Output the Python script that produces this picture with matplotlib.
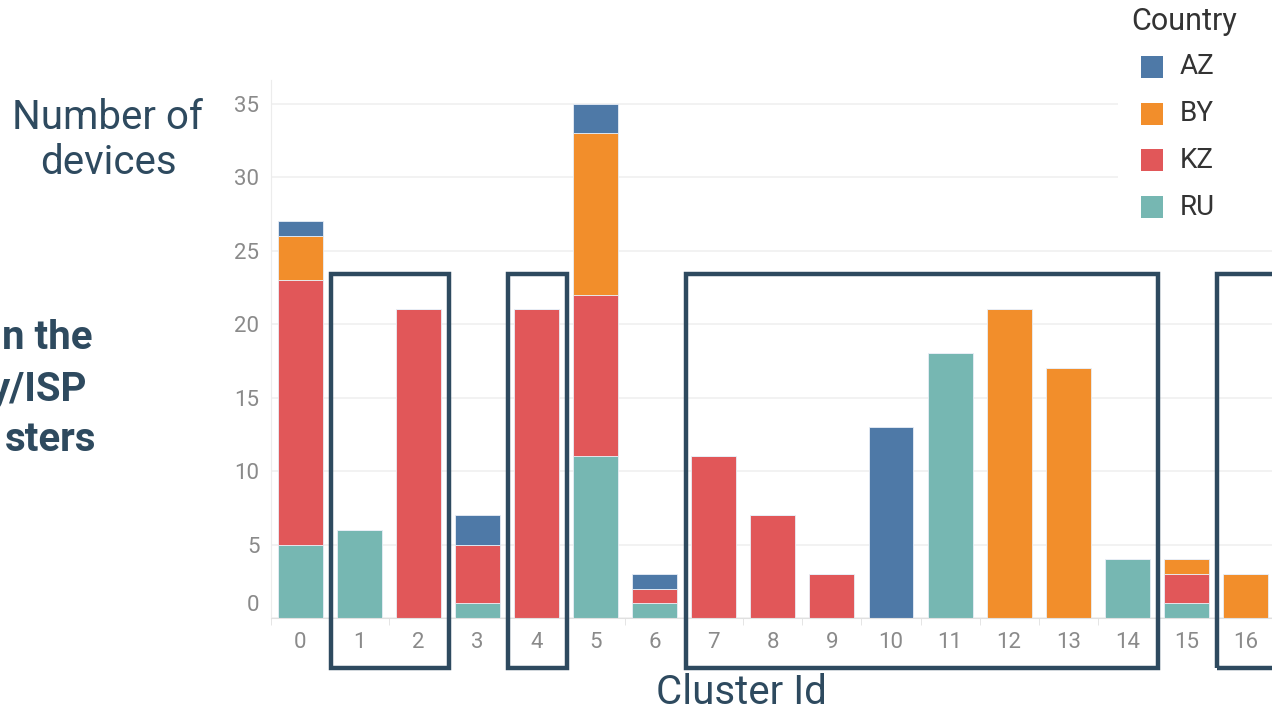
import numpy as np
import matplotlib.pyplot as plt
import matplotlib.transforms as mtransforms
from matplotlib.patches import Rectangle

clusters = [str(i) for i in range(17)]
countries = ['AZ', 'BY', 'KZ', 'RU']
ru = [5, 6, 0, 1, 0, 11, 1, 0, 0, 0, 0, 18, 0, 0, 4, 1, 0]
kz = [18, 0, 21, 4, 21, 11, 1, 11, 7, 3, 0, 0, 0, 0, 0, 2, 0]
by = [3, 0, 0, 0, 0, 11, 0, 0, 0, 0, 0, 0, 21, 17, 0, 1, 3]
az = [1, 0, 0, 2, 0, 2, 1, 0, 0, 0, 13, 0, 0, 0, 0, 0, 0]
colors = {'AZ': '#4e79a7', 'BY': '#f28e2b', 'KZ': '#e15759', 'RU': '#76b7b2'}
yticks = [0, 5, 10, 15, 20, 25, 30, 35]
# highlighted groups of clusters (first, last)
groups = [(1, 2), (4, 4), (7, 14), (16, 17)]

plt.rcParams['font.family'] = ['Roboto', 'DejaVu Sans']
dark = '#2e4a5f'
W, H = 1272, 712

fig = plt.figure(figsize=(12.72, 7.12), dpi=100)
ax = fig.add_axes([270.5 / W, 1 - 618 / H, 1004.6 / W, 538 / H])

x = np.arange(len(clusters))
bottom = np.zeros(len(clusters))
for name, vals in [('RU', ru), ('KZ', kz), ('BY', by), ('AZ', az)]:
    v = np.array(vals, dtype=float)
    ax.bar(x, v, 0.76, bottom=bottom, color=colors[name], label=name,
           edgecolor='#e8eef6', linewidth=0.6)
    bottom += v

ax.set_xlim(-0.5, 16.5)
ax.set_ylim(0, 36.6)
ax.set_yticks(yticks)
ax.set_xticks(x)
ax.set_xticklabels(clusters)
ax.grid(axis='y', color='#f0f0f0', linewidth=1.2)
ax.set_axisbelow(True)
for s in ['top', 'right']:
    ax.spines[s].set_visible(False)
ax.spines['left'].set_color('#ececec')
ax.spines['bottom'].set_color('#e0e0e0')
ax.tick_params(axis='y', length=0, pad=8, labelsize=16, labelcolor='#8a8a8a')
ax.tick_params(axis='x', length=0, pad=10, labelsize=16, labelcolor='#8a8a8a')
# minor ticks between categories
ax.set_xticks(np.arange(-0.5, 17, 1), minor=True)
ax.tick_params(axis='x', which='minor', length=5, color='#e0e0e0')
# lift the 0 label
lbl0 = ax.get_yticklabels()[0]
lbl0.set_transform(lbl0.get_transform() + mtransforms.ScaledTranslation(0, 15 / 100, fig.dpi_scale_trans))

fig.text(741 / W, 1 - 693 / H, 'Cluster Id', ha='center', va='center', fontsize=29, color=dark)
fig.text(108 / W, 1 - 140 / H, 'Number of\ndevices', ha='center', va='center',
         fontsize=29, color=dark, linespacing=1.2)

# cut-off bold text on the left
for txt, xr, yc in [('n the', 92, 338), ('y/ISP', 87, 390), ('sters', 96, 440)]:
    fig.text(xr / W, 1 - yc / H, txt, ha='right', va='center', fontsize=29,
             fontweight='bold', color=dark)

# highlight boxes
for a, b in groups:
    r = Rectangle((a - 0.476, -3.4), b - a + 1.0, 26.8, fill=False, edgecolor=dark,
                  linewidth=3.2, clip_on=False, zorder=5)
    ax.add_patch(r)

# legend
fig.patches.append(Rectangle((1118 / W, 1 - 235 / H), 154 / W, 235 / H, transform=fig.transFigure,
                             facecolor='white', edgecolor='none', zorder=3))
fig.text(1131 / W, 1 - 22 / H, 'Country', ha='left', va='center', fontsize=22,
         color='#333333', zorder=4)
for i, c in enumerate(countries):
    yc = 67 + i * 46.7
    fig.patches.append(Rectangle((1141 / W, 1 - (yc + 11) / H), 22 / W, 22 / H,
                                 transform=fig.transFigure, facecolor=colors[c],
                                 edgecolor='none', zorder=4))
    fig.text(1180 / W, 1 - yc / H, c, ha='left', va='center', fontsize=20,
             color='#333333', zorder=4)

fig.savefig('out.png', dpi=100)
